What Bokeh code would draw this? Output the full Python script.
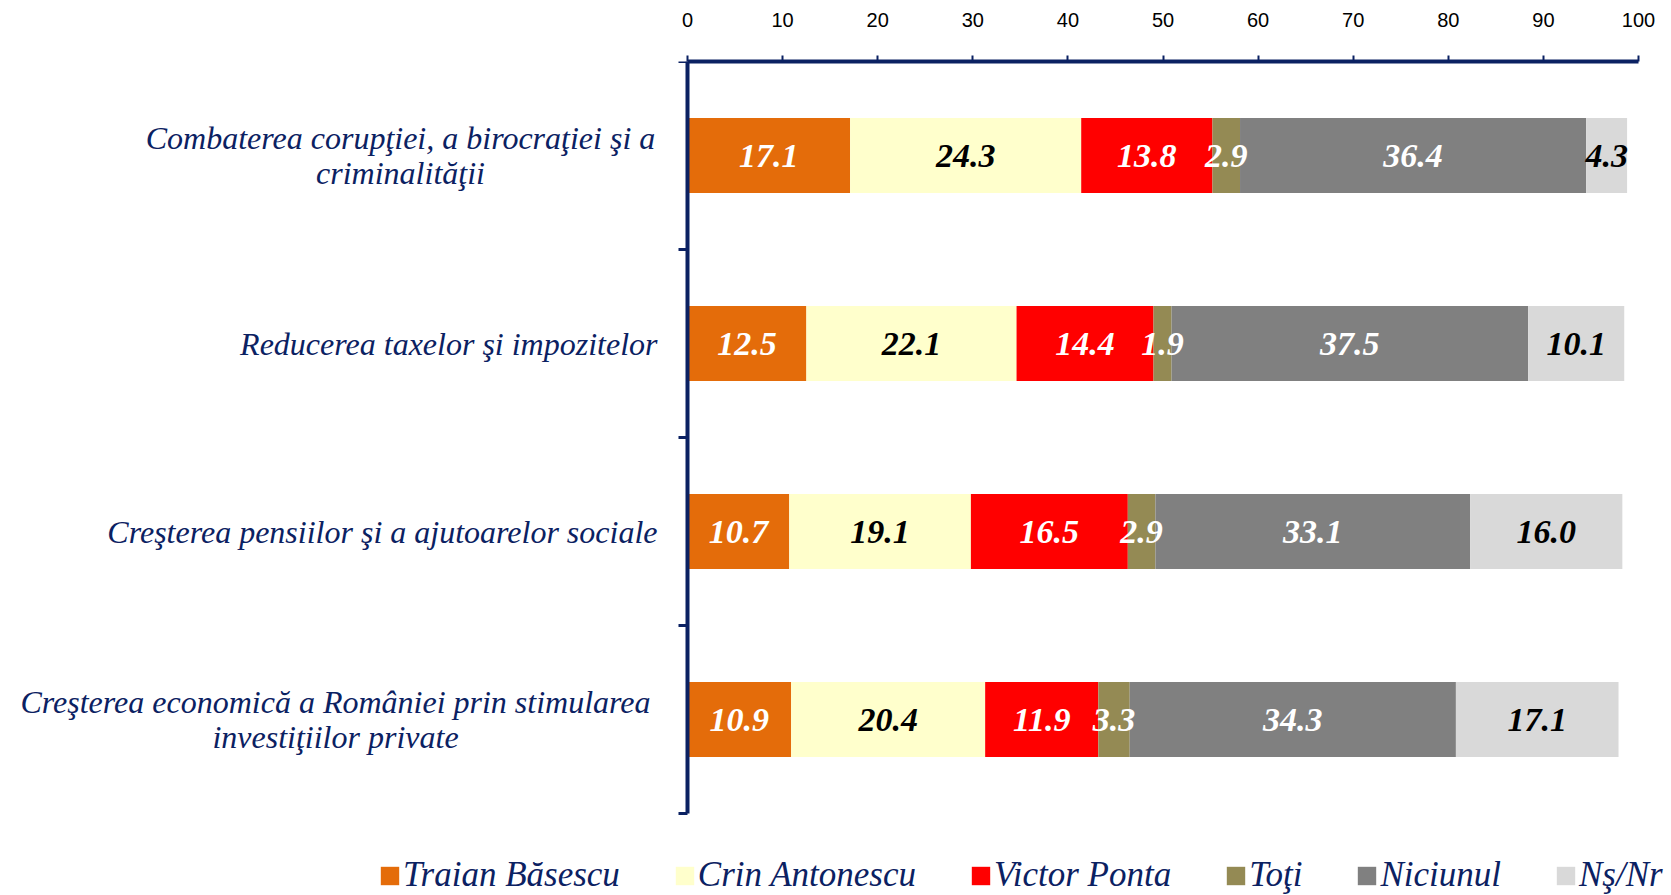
from bokeh.plotting import figure
from bokeh.models import Range1d, FixedTicker, ColumnDataSource
from bokeh.core.properties import value
from bokeh.embed import file_html
from bokeh.resources import INLINE

# ---------------- data ----------------
categories = [
    "Combaterea corupţiei, a birocraţiei şi a\ncriminalităţii",
    "Reducerea taxelor şi impozitelor",
    "Creşterea pensiilor şi a ajutoarelor sociale",
    "Creşterea economică a României prin stimularea\ninvestiţiilor private",
]
series_names = ["Traian Băsescu", "Crin Antonescu", "Victor Ponta", "Toţi", "Niciunul", "Nş/Nr"]
traian = [17.1, 12.5, 10.7, 10.9]
crin = [24.3, 22.1, 19.1, 20.4]
ponta = [13.8, 14.4, 16.5, 11.9]
toti = [2.9, 1.9, 2.9, 3.3]
niciunul = [36.4, 37.5, 33.1, 34.3]
nsnr = [4.3, 10.1, 16.0, 17.1]
x_ticks = [0, 10, 20, 30, 40, 50, 60, 70, 80, 90, 100]

series_values = [traian, crin, ponta, toti, niciunul, nsnr]

# ---------------- styles ----------------
colors = ["#E46C0A", "#FFFFCC", "#FF0000", "#948A54", "#808080", "#D9D9D9"]
label_colors = ["white", "black", "white", "white", "white", "black"]
navy = "#0B2162"
# per-category label placement (pixel offset from the value axis), alignment
cat_offsets = [-287, -30, -30, -352]
cat_aligns = ["center", "right", "right", "center"]

W, H = 1671, 895
FRAME_L, FRAME_R, FRAME_T = 20, 1671, 61     # page pixels of the drawing frame
ZERO_X, HUNDRED_X, CAT_BOTTOM = 687, 1638, 813  # page pixels of value 0 / 100 / bottom of category area
n = len(categories)
px_per_unit_x = (HUNDRED_X - ZERO_X) / 100.0
px_per_unit_y = (CAT_BOTTOM - FRAME_T) / n
x_start = -(ZERO_X - FRAME_L) / px_per_unit_x
x_end = 100 + (FRAME_R - HUNDRED_X) / px_per_unit_x
y_start = -(H - CAT_BOTTOM) / px_per_unit_y

p = figure(width=W, height=H, output_backend="svg", toolbar_location=None,
           x_range=Range1d(x_start, x_end), y_range=Range1d(y_start, n),
           x_axis_location="above", y_axis_location="left",
           min_border_left=FRAME_L, min_border_right=W - FRAME_R,
           min_border_top=FRAME_T, min_border_bottom=0)
p.outline_line_color = None
p.xgrid.visible = False
p.ygrid.visible = False
p.background_fill_color = "white"
p.border_fill_color = "white"

ys = [n - 0.5 - i for i in range(n)]
left = [0.0] * n
sources = []
for k, (name, vals) in enumerate(zip(series_names, series_values)):
    right = [l + v for l, v in zip(left, vals)]
    src = ColumnDataSource(dict(y=ys, left=left, right=right,
                                mid=[(l + r) / 2 for l, r in zip(left, right)],
                                txt=["%.1f" % v for v in vals]))
    p.hbar(y="y", left="left", right="right", height=0.4, source=src,
           fill_color=colors[k], line_color=None, legend_label=name)
    sources.append(src)
    left = right

for k, src in enumerate(sources):
    p.text(x="mid", y="y", text="txt", source=src, text_color=label_colors[k],
           text_font=value("Liberation Serif"), text_font_style="bold italic",
           text_font_size="34px", text_align="center", text_baseline="middle")

# category labels, left of the value axis
cat_src = ColumnDataSource(dict(x=[0] * n, y=ys, text=categories,
                                xo=cat_offsets, al=cat_aligns))
p.text(x="x", y="y", text="text", x_offset="xo", text_align="al", source=cat_src,
       text_font=value("Liberation Serif"), text_font_style="italic",
       text_font_size="32px", text_color=navy, text_baseline="middle",
       text_line_height=0.95)

# top axis
xa = p.xaxis[0]
xa.ticker = FixedTicker(ticks=x_ticks)
xa.bounds = (0, 100)
xa.axis_line_color = navy
xa.axis_line_width = 4
xa.major_tick_line_color = navy
xa.major_tick_line_width = 2
xa.major_tick_out = 6
xa.major_tick_in = 0
xa.minor_tick_line_color = None
xa.major_label_standoff = 29
xa.major_label_text_font = "Liberation Sans"
xa.major_label_text_font_size = "20px"
xa.major_label_text_color = "black"

# left axis drawn at value 0, with ticks at category boundaries
ya = p.yaxis[0]
ya.fixed_location = 0
ya.bounds = (0, n)
ya.ticker = FixedTicker(ticks=list(range(n + 1)))
ya.axis_line_color = navy
ya.axis_line_width = 4
ya.major_tick_line_color = navy
ya.major_tick_line_width = 3
ya.major_tick_out = 9
ya.major_tick_in = 0
ya.minor_tick_line_color = None
ya.major_label_text_color = None
ya.major_label_text_font_size = "1px"
ya.major_label_standoff = 0

# legend
lg = p.legend[0]
lg.orientation = "horizontal"
lg.location = (378 - FRAME_L, 0)
lg.label_text_font = "Liberation Serif"
lg.label_text_font_style = "italic"
lg.label_text_font_size = "35px"
lg.label_text_color = navy
lg.glyph_width = 23
lg.glyph_height = 23
lg.label_standoff = 2
lg.spacing = 53
lg.padding = 0
lg.margin = 0
lg.border_line_color = None
lg.background_fill_alpha = 0

open("out.html", "w").write(file_html(p, INLINE))
